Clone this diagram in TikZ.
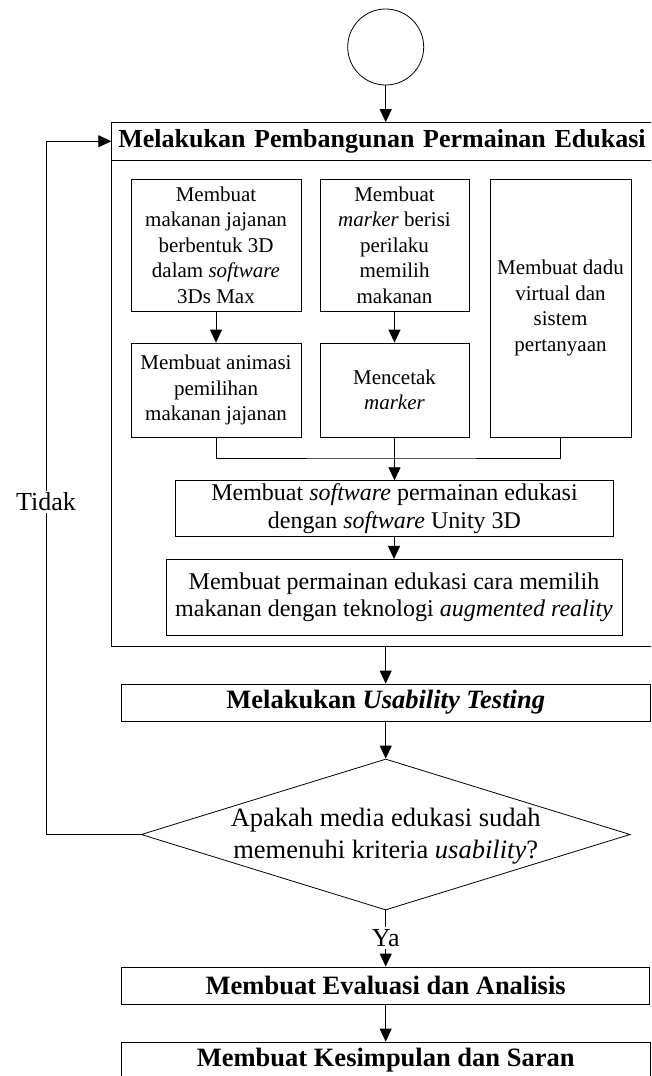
\documentclass[tikz,border=0pt]{standalone}
\usepackage{fontspec}
\setmainfont{Liberation Serif}
\usetikzlibrary{arrows.meta,shapes.geometric}
\tikzset{
  base/.style={draw, line width=0.8pt, inner sep=0pt, align=center},
  sbox/.style={base, rectangle, font=\fontsize{21}{25.5}\selectfont},
  mbox/.style={base, rectangle, font=\fontsize{24}{27.7}\selectfont},
  bbox/.style={base, rectangle, font=\fontsize{26.5}{32}\selectfont\bfseries},
  arr/.style={line width=0.8pt, -{Triangle[length=13pt,width=12pt]}},
  ln/.style={line width=0.8pt},
  lbl/.style={fill=white, inner sep=2pt, font=\fontsize{26}{30}\selectfont}
}
\begin{document}
\begin{tikzpicture}[x=1pt, y=-1pt]
\useasboundingbox (0,0) rectangle (651,1076);
\clip (0,0) rectangle (651,1076);

% start circle
\node[base, circle, minimum size=76pt] (start) at (385.7,47) {};

% big process frame
\node[base, rectangle, minimum width=588.3pt, minimum height=37.5pt, text width=575pt, align=left, inner xsep=6.5pt, font=\fontsize{26}{32}\selectfont\bfseries] (hdr) at (405.85,141.25) {Melakukan Pembangunan Permainan Edukasi};
\node[base, rectangle, minimum width=588.3pt, minimum height=486pt] (body) at (405.85,403) {};

% inner boxes
\node[sbox, minimum width=170pt, minimum height=132pt] (A) at (216,245) {Membuat\\makanan jajanan\\berbentuk 3D\\dalam \textit{software}\\3Ds Max};
\node[sbox, minimum width=149pt, minimum height=132pt] (B) at (394.5,245) {Membuat\\\textit{marker} berisi\\perilaku\\memilih\\makanan};
\node[sbox, minimum width=141pt, minimum height=258pt] (C) at (560.5,308) {Membuat dadu\\virtual dan\\sistem\\pertanyaan};
\node[sbox, minimum width=170pt, minimum height=94pt] (D) at (216,390) {Membuat animasi\\pemilihan\\makanan jajanan};
\node[sbox, minimum width=149pt, minimum height=94pt] (E) at (394.5,390) {Mencetak\\\textit{marker}};
\node[mbox, minimum width=438pt, minimum height=56pt] (F) at (394.5,508.7) {Membuat \textit{software} permainan edukasi\\dengan \textit{software} Unity 3D};
\node[mbox, minimum width=456pt, minimum height=75.7pt] (G) at (394,597.2) {Membuat permainan edukasi cara memilih\\makanan dengan teknologi \textit{augmented reality}};

% lower flow
\node[bbox, minimum width=529pt, minimum height=37pt] (us) at (385.7,702.5) {Melakukan \textit{Usability Testing}};
\node[base, diamond, minimum width=489pt, minimum height=151pt] (dec) at (385.7,834.5) {};
\node[font=\fontsize{26.5}{32}\selectfont, align=center, inner sep=0pt] (dectext) at (385.7,836) {Apakah media edukasi sudah\\memenuhi kriteria \textit{usability}?};
\node[bbox, minimum width=528.2pt, minimum height=37pt] (ev) at (385.7,985.5) {Membuat Evaluasi dan Analisis};
\node[bbox, minimum width=529pt, minimum height=37pt] (ks) at (385.7,1060.5) {Membuat Kesimpulan dan Saran};

% connectors
\draw[arr] (start.south) -- (start.south |- hdr.north);
\draw[arr] (A.south) -- (D.north);
\draw[arr] (B.south) -- (E.north);
\coordinate (mrg) at (394.5,458);
\draw[ln] (D.south) |- (mrg) -| (C.south);
\draw[ln] (E.south) -- (mrg);
\draw[arr] (mrg) -- (F.north);
\draw[arr] (F.south -| G.north) -- (G.north);
\draw[arr] (us.north |- body.south) -- (us.north);
\draw[arr] (us.south) -- (dec.north);
\coordinate (fbBot) at (46,834.5);
\coordinate (fbTop) at (46,141.25);
\draw[ln] (dec.west) -- (fbBot) -- (fbTop);
\draw[arr] (fbTop) -- (hdr.west);
\node[lbl] (tidak) at (46,502) {Tidak};
\draw[arr] (dec.south) -- (ev.north);
\node[lbl] (ya) at (385.7,938) {Ya};
\draw[arr] (ev.south) -- (ks.north);
\end{tikzpicture}
\end{document}
